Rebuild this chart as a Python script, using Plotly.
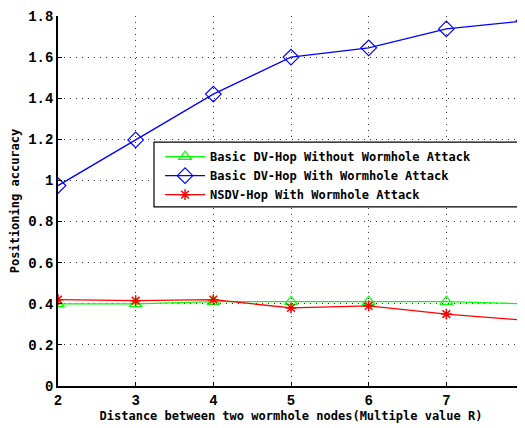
import plotly.graph_objects as go

x_vals = [2, 3, 4, 5, 6, 7, 8]
green_vals = [0.40, 0.40, 0.41, 0.41, 0.41, 0.41, 0.40]
blue_vals = [0.975, 1.197, 1.42, 1.60, 1.645, 1.737, 1.776]
red_vals = [0.42, 0.415, 0.42, 0.38, 0.39, 0.35, 0.32]
names = ["Basic DV-Hop Without Wormhole Attack",
         "Basic DV-Hop With Wormhole Attack",
         "NSDV-Hop With Wormhole Attack"]
y_ticks = [0, 0.2, 0.4, 0.6, 0.8, 1.0, 1.2, 1.4, 1.6, 1.8]
y_tick_text = ["0", "0.2", "0.4", "0.6", "0.8", "1", "1.2", "1.4", "1.6", "1.8"]

FONT = "Liberation Mono"
TFONT = "DejaVu Sans Mono"

fig = go.Figure()
fig.add_trace(go.Scatter(x=x_vals, y=green_vals, name=names[0], mode="lines+markers",
                         line=dict(color="#00ff00", width=1.3),
                         marker=dict(symbol="triangle-up-open", size=11, color="#00ff00",
                                     line=dict(width=1.2))))
fig.add_trace(go.Scatter(x=x_vals, y=blue_vals, name=names[1], mode="lines+markers",
                         line=dict(color="#0000ff", width=1.3),
                         marker=dict(symbol="diamond-open", size=12, color="#0000ff",
                                     line=dict(width=1.2))))
fig.add_trace(go.Scatter(x=x_vals, y=red_vals, name=names[2], mode="lines+markers",
                         line=dict(color="#ff0000", width=1.3),
                         marker=dict(symbol="asterisk-open", size=9, color="#ff0000",
                                     line=dict(width=1.5, color="#ff0000"))))

# legend frame
fig.add_shape(type="rect", xref="paper", yref="paper",
              x0=0.206, x1=0.998, y0=0.484, y1=0.659,
              fillcolor="white", line=dict(color="black", width=1.2), layer="above")

fig.update_layout(
    width=517, height=420,
    margin=dict(l=50, r=1, t=8, b=42),
    paper_bgcolor="white", plot_bgcolor="white",
    font=dict(family=FONT, size=13, color="black"),
    showlegend=True,
    legend=dict(x=0.219, y=0.659, xanchor="left", yanchor="top",
                bgcolor="rgba(0,0,0,0)", borderwidth=0,
                font=dict(family=TFONT, size=12, color="black", weight="bold"),
                itemwidth=40, tracegroupgap=0),
)
grid_common = dict(showgrid=True, gridcolor="#333", griddash="1px,5px", gridwidth=1,
                   showline=True, linecolor="black", linewidth=1.5, ticks="inside",
                   ticklen=4, tickcolor="black", zeroline=False,
                   tickfont=dict(family=FONT, size=14, weight="bold"))
fig.update_xaxes(range=[2, 8], tickvals=x_vals,
                 title=dict(text="Distance between two wormhole nodes(Multiple value R)",
                            font=dict(family=TFONT, size=12, weight="bold"), standoff=0),
                 **grid_common)
fig.update_yaxes(range=[0, 1.8], tickvals=y_ticks, ticktext=y_tick_text,
                 title=dict(text="Positioning accuracy",
                            font=dict(family=TFONT, size=12, weight="bold"), standoff=6),
                 **grid_common)

fig.write_html("out.html")
